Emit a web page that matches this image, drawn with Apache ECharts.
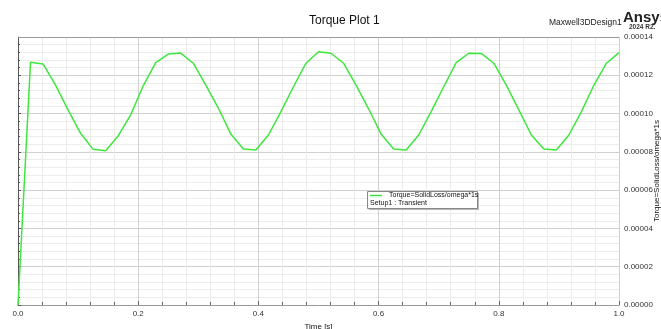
<!DOCTYPE html>
<html>
<head>
<meta charset="utf-8">
<script src="https://cdn.jsdelivr.net/npm/echarts@6/dist/echarts.min.js"></script>
<style>
  html, body { margin: 0; padding: 0; background: #fff; }
  #chart { width: 661px; height: 329px; }
</style>
</head>
<body>
<div id="chart"></div>
<script>
// time samples: 49 points, step 1/48 s
const timeSteps = 48
const torque = [
  0.0, 1.268, 1.259, 1.149, 1.019, 0.897, 0.813, 0.806, 0.883, 0.993, 1.145, 1.266,
  1.311, 1.316, 1.263, 1.149, 1.029, 0.893, 0.815, 0.810, 0.888, 1.010, 1.140, 1.263,
  1.323, 1.315, 1.263, 1.149, 1.025, 0.893, 0.815, 0.810, 0.888, 1.010, 1.140, 1.266,
  1.315, 1.314, 1.263, 1.149, 1.019, 0.888, 0.815, 0.810, 0.888, 1.010, 1.149, 1.263,
  1.318
] // x 1e-4
const xTicks = [0, 0.2, 0.4, 0.6, 0.8, 1.0]
const yTicks = [0, 0.00002, 0.00004, 0.00006, 0.00008, 0.0001, 0.00012, 0.00014]
const yName = 'Torque=SolidLoss/omega*1s'

const seriesData = torque.map((v, i) => [i / timeSteps, v * 1e-4])

const font = 'Liberation Sans, Arial, sans-serif'
const green = '#3ee63e'
const chart = echarts.init(document.getElementById('chart'))

chart.setOption({
  animation: false,
  textStyle: { fontFamily: font },
  title: {
    text: 'Torque Plot 1',
    left: 304,
    top: 10,
    textStyle: { fontSize: 12, fontWeight: 'normal', color: '#111', fontFamily: font },
  },
  grid: { left: 18, right: 42, top: 37, bottom: 24, outerBoundsMode: 'none' },
  xAxis: {
    type: 'value',
    min: xTicks[0],
    max: xTicks[xTicks.length - 1],
    interval: 0.2,
    name: 'Time [s]',
    nameLocation: 'middle',
    nameGap: 15,
    nameTextStyle: { fontSize: 8, color: '#111' },
    axisLine: { show: true, lineStyle: { color: '#999', width: 1 } },
    axisTick: { show: true, inside: true, length: 4, lineStyle: { color: '#666' } },
    minorTick: { show: true, splitNumber: 5, length: 3, lineStyle: { color: '#666' } },
    axisLabel: { fontSize: 8, color: '#333', margin: 5, formatter: v => v.toFixed(1) },
    splitLine: { show: true, lineStyle: { color: '#d0d0d0', width: 1 } },
    minorSplitLine: { show: true, lineStyle: { color: '#ececec', width: 1 } },
  },
  yAxis: {
    type: 'value',
    position: 'right',
    min: yTicks[0],
    max: yTicks[yTicks.length - 1],
    interval: 0.00002,
    axisLine: { show: true, lineStyle: { color: '#555', width: 1 } },
    axisTick: { show: true, length: 3, lineStyle: { color: '#555' } },
    minorTick: { show: true, splitNumber: 5, length: 2, lineStyle: { color: '#555' } },
    axisLabel: { fontSize: 8, color: '#333', margin: 5, formatter: v => v.toFixed(5) },
    splitLine: { show: true, lineStyle: { color: '#d0d0d0', width: 1 } },
    minorSplitLine: { show: true, lineStyle: { color: '#ececec', width: 1 } },
  },
  series: [
    {
      name: yName,
      type: 'line',
      data: seriesData,
      showSymbol: false,
      lineStyle: { color: green, width: 1.5 },
      itemStyle: { color: green },
    },
  ],
  graphic: [
    // top border of plot area
    { type: 'line', shape: { x1: 18, y1: 37.5, x2: 619, y2: 37.5 }, style: { stroke: '#999', lineWidth: 1 }, z: 10 },
    // y axis name, rotated, partly cut by the right edge
    {
      type: 'text', x: 657, y: 171, rotation: Math.PI / 2,
      style: { text: yName, fontSize: 8, fill: '#111', fontFamily: font, align: 'center', verticalAlign: 'middle' },
    },
    { type: 'text', left: 549, top: 18, style: { text: 'Maxwell3DDesign1', fontSize: 8.5, fill: '#222', fontFamily: font } },
    { type: 'text', left: 623, top: 10, style: { text: 'Ansys', fontSize: 15, fontWeight: 'bold', fill: '#222', fontFamily: font } },
    { type: 'text', left: 629, top: 24, style: { text: '2024 R2.', fontSize: 6.5, fontWeight: 'bold', fill: '#333', fontFamily: font } },
    // legend box
    { type: 'rect', shape: { x: 369, y: 193, width: 110, height: 17 }, style: { fill: '#b8b8b8' }, z: 20 },
    { type: 'rect', shape: { x: 367.5, y: 191.5, width: 110, height: 17 }, style: { fill: '#fff', stroke: '#888', lineWidth: 1 }, z: 21 },
    { type: 'line', shape: { x1: 370, y1: 195.5, x2: 382, y2: 195.5 }, style: { stroke: green, lineWidth: 1.5 }, z: 22 },
    { type: 'text', left: 389, top: 192, style: { text: yName, fontSize: 7, fill: '#111', fontFamily: font }, z: 22 },
    { type: 'text', left: 370, top: 200, style: { text: 'Setup1 : Transient', fontSize: 7, fill: '#111', fontFamily: font }, z: 22 },
  ],
})
</script>
</body>
</html>
